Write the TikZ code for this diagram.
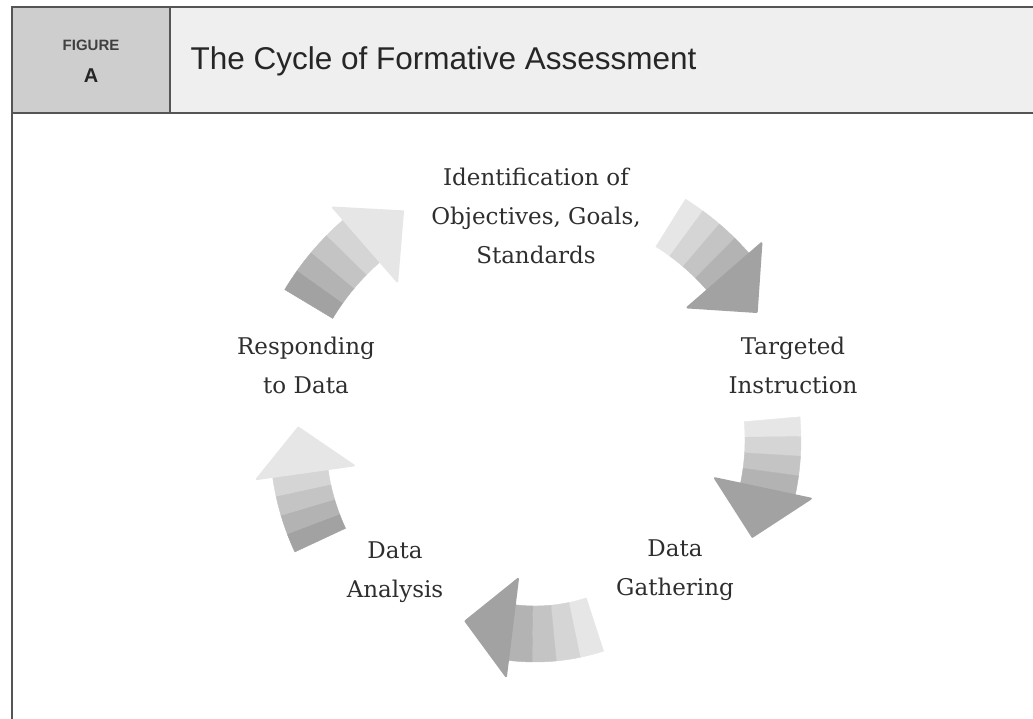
\documentclass[tikz,border=0pt]{standalone}
\usepackage{fontspec}
\setmainfont{DejaVu Serif}
\setsansfont{Liberation Sans}

\definecolor{framegray}{HTML}{555555}
\definecolor{headfill}{HTML}{EFEFEF}
\definecolor{cellfill}{HTML}{CECECE}
\definecolor{labeltext}{HTML}{2E2E2E}
\definecolor{darkband}{HTML}{A2A2A2}
\definecolor{lightband}{HTML}{E6E6E6}

\tikzset{
  steplabel/.style={align=center, text=labeltext, font=\fontsize{23}{39}\selectfont},
  frameline/.style={draw=framegray, line width=1.6pt},
}

% #1 radius, #2 tail angle, #3 head base angle, #4 tip angle, #5 tail colour, #6 head colour
\newcommand{\cyclearrow}[6]{%
  \pgfmathsetmacro{\ri}{#1-28}
  \pgfmathsetmacro{\ro}{#1+28}
  \pgfmathsetmacro{\hi}{#1-54}
  \pgfmathsetmacro{\ho}{#1+44}
  \foreach \k in {0,...,3}{%
    \pgfmathsetmacro{\aa}{#2+(#3-#2)*\k/4}
    \pgfmathsetmacro{\ab}{#2+(#3-#2)*(\k+1)/4}
    \pgfmathtruncatemacro{\mix}{\k*25}
    \fill[#6!\mix!#5, draw=#6!\mix!#5, line width=0.4pt, line join=round]
      (\aa:\ro pt) arc[start angle=\aa, end angle=\ab, radius=\ro pt]
      -- (\ab:\ri pt) arc[start angle=\ab, end angle=\aa, radius=\ri pt] -- cycle;
  }
  \fill[#6, draw=#6, line width=2pt, line join=round] (#3:\hi pt) -- (#4:#1pt) -- (#3:\ho pt) -- cycle;
}

\begin{document}
\begin{tikzpicture}[x=1pt, y=1pt]
    \useasboundingbox (0,0) rectangle (1033,719);

    % Header band
    \fill[headfill] (12,606) rectangle (1033,712);
    \fill[cellfill] (12,606) rectangle (170,712);
    \draw[frameline] (1033,712) -- (12,712) -- (12,0);
    \draw[frameline] (12,606) -- (1033,606);
    \draw[frameline] (170,606) -- (170,712);

    \node[font=\sffamily\bfseries\fontsize{15}{17}\selectfont, text=black!75] (figword) at (91,674) {FIGURE};
    \node[font=\sffamily\bfseries\fontsize{20}{22}\selectfont, text=black!85] (figletter) at (91,643) {A};
    \node[anchor=west, font=\sffamily\fontsize{31.5}{34}\selectfont, text=black!85] (title) at (187,658) {The Cycle of Formative Assessment};

    % Step labels
    \node[steplabel] (goals) at (536,503) {Identification of\\Objectives, Goals,\\Standards};
    \node[steplabel] (instruction) at (793,354) {Targeted\\Instruction};
    \node[steplabel] (gathering) at (675,149) {Data\\Gathering};
    \node[steplabel] (analysis) at (395,147) {Data\\Analysis};
    \node[steplabel] (responding) at (306,354) {Responding\\to Data};

    % Curved arrows round the cycle
    \begin{scope}[shift={(535,279)}]
        \cyclearrow{264}{149}{131}{120}{darkband}{lightband}
        \cyclearrow{256}{58}{41}{30}{lightband}{darkband}
        \cyclearrow{238}{5}{-12}{-24}{lightband}{darkband}
        \cyclearrow{194}{-72}{-97}{-111}{lightband}{darkband}
        \cyclearrow{237}{205}{188}{177}{darkband}{lightband}
    \end{scope}
\end{tikzpicture}
\end{document}
